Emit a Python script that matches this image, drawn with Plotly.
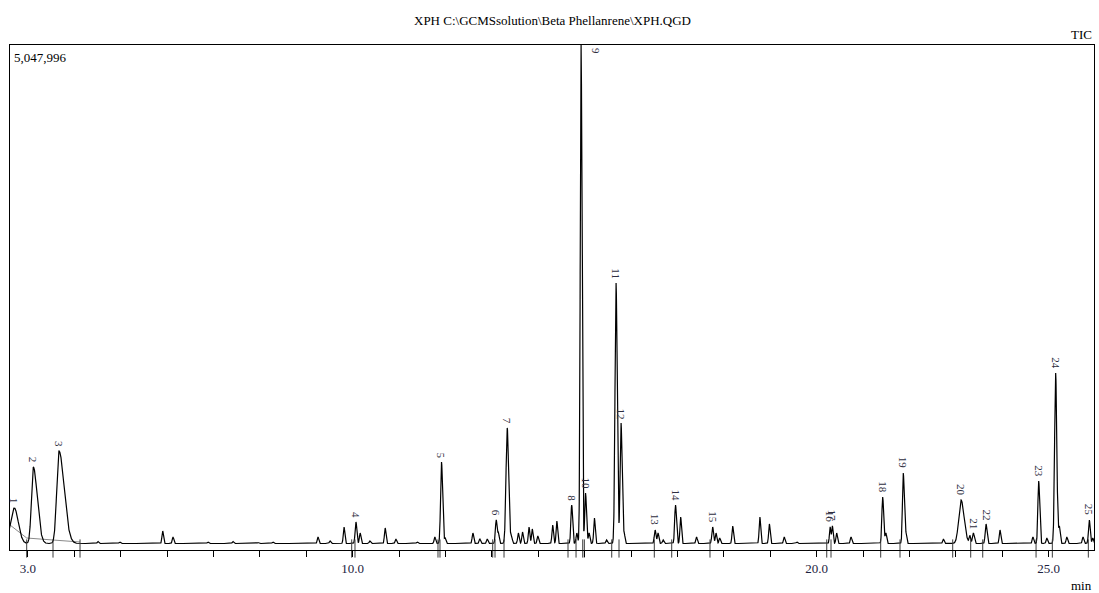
import numpy as np
import plotly.graph_objects as go

# ---- Identified peaks (number, retention time in min, apex intensity in counts) ----
peak_ids = [str(i) for i in range(1, 26)]
peak_times = [2.707, 3.116, 3.670, 10.07, 11.914, 13.093, 13.330, 14.720, 14.922,
              15.018, 15.675, 15.783, 16.518, 16.957, 17.758, 20.289, 20.338,
              21.422, 21.866, 23.111, 23.376, 23.649, 24.784, 25.149, 25.875]
peak_apex = [420000, 830000, 990000, 280000, 880000, 300000, 1220000, 450000,
             5047996, 570000, 2670000, 1270000, 200000, 450000, 230000, 230000,
             240000, 530000, 770000, 500000, 170000, 260000, 690000, 1770000, 300000]
peak_sigma_left = [0.080, 0.040, 0.048, 0.018, 0.020, 0.018, 0.026, 0.018, 0.018,
                   0.018, 0.022, 0.020, 0.018, 0.018, 0.018, 0.015, 0.015,
                   0.018, 0.018, 0.050, 0.020, 0.018, 0.018, 0.022, 0.018]
peak_sigma_right = [0.085, 0.085, 0.110, 0.018, 0.022, 0.018, 0.030, 0.018, 0.020,
                    0.020, 0.025, 0.022, 0.018, 0.020, 0.018, 0.015, 0.015,
                    0.020, 0.020, 0.065, 0.020, 0.020, 0.020, 0.025, 0.018]

# ---- Unlabelled minor peaks (retention time, apex intensity) ----
minor_times = [4.51, 4.98, 5.905, 6.127, 6.88, 7.42, 7.96, 8.28, 9.252, 9.511,
               9.813, 10.16, 10.37, 10.70, 10.93, 11.39, 11.77, 11.99, 12.59, 12.74,
               12.90, 13.14, 13.42, 13.57, 13.66, 13.80, 13.87, 13.99, 14.31, 14.40,
               14.83, 15.094, 15.21, 15.47, 15.85, 16.58, 16.69, 17.068, 17.41, 17.83,
               17.91, 18.19, 18.775, 18.98, 19.30, 19.57, 20.43, 20.74, 21.49, 21.92,
               22.73, 23.30, 23.95, 24.66, 24.96, 25.23, 25.39, 25.74, 25.95]
minor_apex = [85000, 80000, 190000, 130000, 80000, 85000, 75000, 80000, 130000,
              90000, 230000, 170000, 90000, 220000, 110000, 80000, 130000, 120000, 170000,
              110000, 110000, 170000, 150000, 170000, 180000, 230000, 210000, 140000,
              250000, 290000, 170000, 170000, 320000, 100000, 170000, 170000, 100000,
              330000, 130000, 170000, 120000, 240000, 330000, 260000, 130000, 80000,
              170000, 130000, 170000, 170000, 110000, 140000, 200000, 130000, 120000,
              230000, 130000, 130000, 120000]
minor_sigma = 0.016

baseline_level = 65000

# Integration boundary marks (min)
boundary_times = [2.974, 3.541, 4.123, 9.978, 10.049, 11.838, 11.881, 13.017, 13.067,
                  13.261, 14.640, 14.813, 14.957, 14.992, 15.582, 15.739, 16.500,
                  16.875, 17.700, 20.216, 20.308, 21.379, 21.795, 22.931, 23.319,
                  23.578, 24.727, 25.078, 25.854]

# Drawn baseline under the first peaks (time, intensity)
base_line_t = [2.614, 2.974, 3.541, 4.123]
base_line_y = [250000, 120000, 100000, 80000]

x_range = [2.614, 25.976]
y_top = 5047996

# ---- Build the TIC trace from the peak table ----
t = np.arange(2.60, 25.99, 0.002)
tic = np.full_like(t, float(baseline_level))
for tc, a, sl, sr in zip(peak_times, peak_apex, peak_sigma_left, peak_sigma_right):
    s = np.where(t < tc, sl, sr)
    tic += (a - baseline_level) * np.exp(-0.5 * ((t - tc) / s) ** 2)
for tc, a in zip(minor_times, minor_apex):
    tic += (a - baseline_level) * np.exp(-0.5 * ((t - tc) / minor_sigma) ** 2)

fig = go.Figure()

fig.add_trace(go.Scatter(x=base_line_t, y=base_line_y, mode="lines",
                         line=dict(color="#8a8a8a", width=1), hoverinfo="skip"))

fig.add_trace(go.Scatter(x=t, y=tic, mode="lines",
                         line=dict(color="black", width=1.2), hoverinfo="skip"))

fig.add_trace(go.Scatter(x=boundary_times, y=[15000] * len(boundary_times),
                         mode="markers", cliponaxis=False,
                         marker=dict(symbol="line-ns-open", size=13, color="#3a3a3a",
                                     line=dict(color="#3a3a3a", width=1)),
                         hoverinfo="skip"))

label_font = dict(family="Liberation Serif", size=11, color="#2e2e40")
annotations = []
for pid, tc, a in zip(peak_ids, peak_times, peak_apex):
    if a >= y_top:
        annotations.append(dict(x=tc, y=y_top, xref="x", yref="y", text=pid,
                                showarrow=False, textangle=90, xanchor="left",
                                yanchor="top", xshift=7, yshift=-1, font=label_font))
    else:
        annotations.append(dict(x=tc, y=a, xref="x", yref="y", text=pid,
                                showarrow=False, textangle=90, xanchor="center",
                                yanchor="bottom", yshift=2, font=label_font))

text_font = dict(family="Liberation Serif", size=13, color="black")
annotations += [
    dict(x=0.5, y=1.0, xref="paper", yref="paper",
         text="XPH C:\\GCMSsolution\\Beta Phellanrene\\XPH.QGD",
         showarrow=False, font=text_font, xanchor="center", yanchor="middle", yshift=25),
    dict(x=1.0, y=1.0, xref="paper", yref="paper", text="TIC", showarrow=False,
         font=text_font, xanchor="right", yanchor="bottom", yshift=1),
    dict(x=0.0, y=1.0, xref="paper", yref="paper", text="5,047,996", showarrow=False,
         font=text_font, xanchor="left", yanchor="top", xshift=2, yshift=-3),
    dict(x=1.0, y=0.0, xref="paper", yref="paper", text="min", showarrow=False,
         font=text_font, xanchor="right", yanchor="top", yshift=-26),
]

tick_vals = list(range(3, 26))
tick_text = ["3.0" if v == 3 else "10.0" if v == 10 else "20.0" if v == 20
             else "25.0" if v == 25 else "" for v in tick_vals]

fig.update_layout(
    width=1099, height=593,
    margin=dict(l=10, r=5, t=45, b=43),
    paper_bgcolor="white", plot_bgcolor="white",
    showlegend=False,
    annotations=annotations,
    xaxis=dict(range=x_range, showgrid=False, zeroline=False,
               showline=True, linecolor="black", linewidth=1, mirror=True,
               ticks="outside", ticklen=6, tickcolor="black", tickwidth=1,
               tickvals=tick_vals, ticktext=tick_text,
               tickfont=dict(family="Liberation Serif", size=13, color="#1c2340")),
    yaxis=dict(range=[0, y_top], showgrid=False, zeroline=False,
               showline=True, linecolor="black", linewidth=1, mirror=True,
               showticklabels=False, ticks=""),
)

fig.write_html("out.html")
